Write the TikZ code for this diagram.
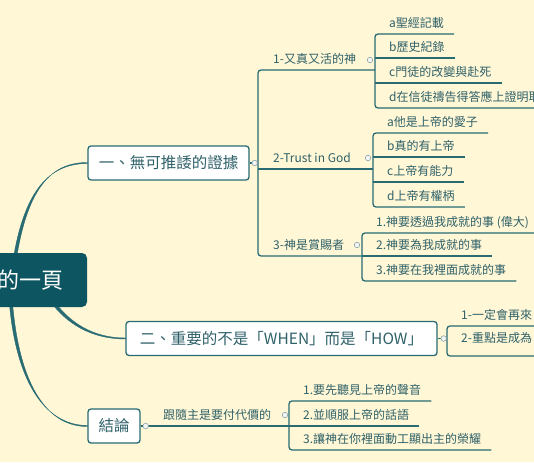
\documentclass[tikz,border=0pt]{standalone}
\usepackage{fontspec}
\setmainfont{Noto Sans CJK TC}
\definecolor{bgc}{HTML}{FFF7D6}
\definecolor{dark}{HTML}{0D5661}
\definecolor{ln}{HTML}{286B73}
\definecolor{tx}{HTML}{2F6169}
\definecolor{tg}{HTML}{8AA5A8}
\pgfdeclarelayer{back}
\pgfsetlayers{back,main}
\begin{document}
\begin{tikzpicture}[x=1pt,y=-1pt,
  trunk/.style={fill=ln, draw=ln, line width=0.4pt},
  br/.style={draw=ln, line width=1.3pt, rounded corners=3pt},
  box/.style={draw=ln, line width=1.3pt, fill=white, rounded corners=3pt, text=tx,
    font=\fontsize{15.5}{18}\selectfont, minimum height=34pt, inner xsep=10pt},
  leaf/.style={anchor=south west, inner xsep=10pt, inner ysep=3.5pt, text height=10pt,
    text depth=2.5pt, text=tx, font=\fontsize{12}{14}\selectfont},
  tog/.style={circle, draw=tg, fill=white!92!gray, line width=0.6pt, inner sep=0pt, minimum size=5.5pt},
]
\useasboundingbox (0,0) rectangle (534,462);

% root and main boxes
\node[fill=dark, rounded corners=5pt, minimum height=54pt, text width=132pt, align=right,
      inner xsep=23pt, text=white!95!bgc, font=\fontsize{22}{26}\selectfont] (root) at (-2,280) {的一頁};
\node[box, minimum width=161pt] (b1) at (168.5,163) {一、無可推諉的證據};
\node[box, minimum width=311pt] (b2) at (281.5,338.5) {二、重要的不是「WHEN」而是「HOW」};
\node[box, minimum width=52pt] (b3) at (114,426) {結論};

% junction coordinates
\coordinate (m1) at (258,70);
\coordinate (m2) at (258,169);
\coordinate (m3) at (258,256);
\coordinate (mb) at (258,163);
\coordinate (j1) at (375,70);
\coordinate (j2) at (373,169);
\coordinate (j3) at (362,256);
\coordinate (j4) at (447,338.5);
\coordinate (j5) at (289,426);

% sub-branches
\node[leaf, inner xsep=11pt] (s1) at (262,70) {1-又真又活的神};
\node[leaf, inner xsep=11pt] (s2) at (262,169) {2-Trust in God};
\node[leaf, inner xsep=11pt] (s3) at (262,256) {3-神是賞賜者};
\node[leaf] (s4) at (153,426) {跟隨主是要付代價的};

% leaves
\node[leaf] (l11) at (379,34) {a聖經記載};
\node[leaf] (l12) at (379,58) {b歷史紀錄};
\node[leaf] (l13) at (379,83) {c門徒的改變與赴死};
\node[leaf] (l14) at (379,108) {d在信徒禱告得答應上證明耶};
\node[leaf] (l21) at (377,133) {a他是上帝的愛子};
\node[leaf] (l22) at (377,157) {b真的有上帝};
\node[leaf] (l23) at (377,182) {c上帝有能力};
\node[leaf] (l24) at (377,207) {d上帝有權柄};
\node[leaf] (l31) at (366,233) {1.神要透過我成就的事 (偉大)};
\node[leaf] (l32) at (366,256) {2.神要為我成就的事};
\node[leaf] (l33) at (366,281) {3.神要在我裡面成就的事};
\node[leaf] (l41) at (451,326) {1-一定會再來};
\node[leaf, inner ysep=10.5pt] (l42) at (451,356) {2-重點是成為};
\node[leaf] (l51) at (293,401) {1.要先聽見上帝的聲音};
\node[leaf] (l52) at (293,426) {2.並順服上帝的話語};
\node[leaf] (l53) at (293,450) {3.讓神在你裡面動工顯出主的榮耀};

\begin{pgfonlayer}{back}
\fill[bgc] (0,0) rectangle (534,462);
% tapered trunks: thick at the root, thin at the branch
\path[trunk] ([xshift=15.6pt]root.center) .. controls +(10,-90) and +(-38,0) .. ([yshift=0.5pt]b1.west)
  -- ([yshift=-0.5pt]b1.west) .. controls +(-38,0) and +(10,-90) .. ([xshift=12.4pt]root.center) -- cycle;
\path[trunk] ([shift={(48.4,9.1)}]root.center) .. controls +(20,35) and +(-31,0) .. ([yshift=0.5pt]b2.west)
  -- ([yshift=-0.5pt]b2.west) .. controls +(-31,0) and +(20,35) .. ([shift={(45.6,10.9)}]root.center) -- cycle;
\path[trunk] ([shift={(13.6,10)}]root.center) .. controls +(5,90) and +(-43,0) .. ([yshift=-0.5pt]b3.west)
  -- ([yshift=0.5pt]b3.west) .. controls +(-43,0) and +(5,90) .. ([shift={(10.4,10)}]root.center) -- cycle;
\end{pgfonlayer}

% main bracket of branch one
\draw[br] (j1) -- (m1) -- (m3) -- (j3);
\draw[br] (m2) -- (j2);
\draw[br] (b1.east) -- (mb);

% group 1
\draw[br] (l11.south east) -- (l11.south west -| j1) -- (l14.south west -| j1) -- (l14.south east);
\draw[br] (l12.south west -| j1) -- (l12.south east);
\draw[br] (l13.south west -| j1) -- (l13.south east);
% group 2
\draw[br] (l21.south east) -- (l21.south west -| j2) -- (l24.south west -| j2) -- (l24.south east);
\draw[br] (l22.south west -| j2) -- (l22.south east);
\draw[br] (l23.south west -| j2) -- (l23.south east);
% group 3
\draw[br] (l31.south east) -- (l31.south west -| j3) -- (l33.south west -| j3) -- (l33.south east);
\draw[br] (l32.south west -| j3) -- (l32.south east);
% group 4
\draw[br] (b2.east) -- (j4);
\draw[br] (l41.south east) -- (l41.south west -| j4) -- (l42.south west -| j4) -- (l42.south east);
% group 5
\draw[br] (b3.east) -- (j5);
\draw[br] (l51.south east) -- (l51.south west -| j5) -- (l53.south west -| j5) -- (l53.south east);
\draw[br] (l52.south west -| j5) -- (l52.south east);

% collapse toggles
\node[tog] (t1) at ([xshift=5pt]b1.east) {};
\node[tog] (t2) at ([shift={(-5,-10)}]j1) {};
\node[tog] (t3) at ([shift={(-5,-11)}]j2) {};
\node[tog] (t4) at ([shift={(-5,-11)}]j3) {};
\node[tog] (t5) at ([xshift=6pt]b2.east) {};
\node[tog] (t6) at ([xshift=5pt]b3.east) {};
\node[tog] (t7) at ([shift={(-4,-11)}]j5) {};
\end{tikzpicture}
\end{document}
